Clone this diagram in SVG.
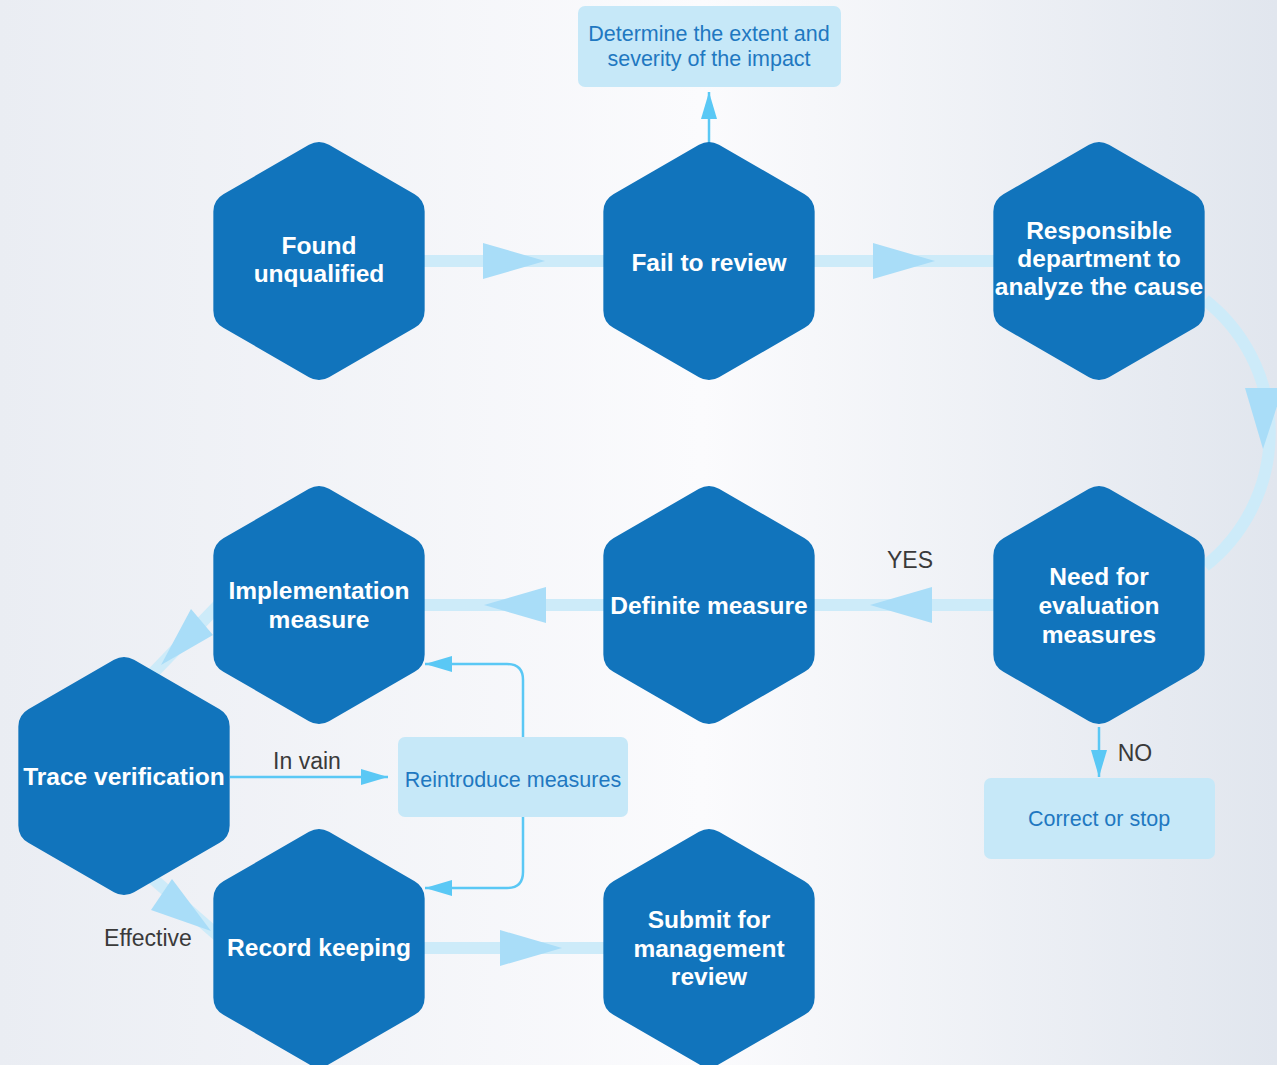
<svg xmlns="http://www.w3.org/2000/svg" xmlns:xlink="http://www.w3.org/1999/xlink" width="1277" height="1065" viewBox="0 0 1277 1065">
<defs>
<linearGradient id="bg" x1="0" y1="0" x2="1" y2="0">
<stop offset="0" stop-color="#eaedf3"/>
<stop offset="0.55" stop-color="#fbfbfd"/>
<stop offset="1" stop-color="#e1e6ee"/>
</linearGradient>
<path id="hex" d="M10,-116.2 L95.66,-66.78 A20,20 0 0 1 105.66,-49.45 L105.66,49.45 A20,20 0 0 1 95.66,66.78 L10,116.2 A20,20 0 0 1 -10,116.2 L-95.66,66.78 A20,20 0 0 1 -105.66,49.45 L-105.66,-49.45 A20,20 0 0 1 -95.66,-66.78 L-10,-116.2 A20,20 0 0 1 10,-116.2 Z"/>
<marker id="arr" viewBox="0 0 27 16" refX="27" refY="8" markerWidth="27" markerHeight="16" markerUnits="userSpaceOnUse" orient="auto">
<path d="M0,0 L27,8 L0,16 Z" fill="#5ac8f5"/>
</marker>
<style>
.hexs{fill:#1174bc}
.nt{font-family:"Liberation Sans",Arial,sans-serif;font-weight:bold;font-size:24.5px;fill:#ffffff;text-anchor:middle}
.thick{stroke:#cdebf9;stroke-width:12;fill:none}
.tri{fill:#a9ddf8}
.thin{stroke:#5ac8f5;stroke-width:2.5;fill:none;marker-end:url(#arr)}
.box{fill:#c6e8f8}
.bt{font-family:"Liberation Sans",Arial,sans-serif;font-size:21.5px;fill:#1f78c1;text-anchor:middle}
.lbl{font-family:"Liberation Sans",Arial,sans-serif;font-size:23px;fill:#3a3a3a;text-anchor:middle}
</style>
</defs>
<rect x="0" y="0" width="1277" height="1065" fill="url(#bg)"/>

<g id="connectors">
<line class="thick" x1="319" y1="261" x2="709" y2="261"/>
<polygon class="tri" points="483,243 545,261 483,279"/>
<line class="thick" x1="709" y1="261" x2="1099" y2="261"/>
<polygon class="tri" points="873,243 935,261 873,279"/>
<path class="thick" d="M1205,300 A169,169 0 0 1 1205,566"/>
<polygon class="tri" points="1245,388 1283,388 1263,449"/>
<line class="thick" x1="1099" y1="605" x2="319" y2="605"/>
<polygon class="tri" points="932,587 870,605 932,623"/>
<polygon class="tri" points="546,587 484,605 546,623"/>
<line class="thick" x1="230" y1="593" x2="130" y2="697"/>
<polygon class="tri" points="191,609 213,635 161,665"/>
<line class="thick" x1="120" y1="850" x2="240" y2="955"/>
<polygon class="tri" points="172,879 151,910 211,931"/>
<line class="thick" x1="319" y1="948" x2="709" y2="948"/>
<polygon class="tri" points="500,930 562,948 500,966"/>
<line class="thin" x1="709" y1="143" x2="709" y2="92"/>
<line class="thin" x1="1099" y1="727" x2="1099" y2="777"/>
<line class="thin" x1="230" y1="777" x2="388" y2="777"/>
<path class="thin" d="M523,737 V680 Q523,664 507,664 H425"/>
<path class="thin" d="M523,817 V872 Q523,888 507,888 H425"/>
<text class="lbl" x="910" y="568">YES</text>
<text class="lbl" x="1135" y="761">NO</text>
<text class="lbl" x="307" y="769">In vain</text>
<text class="lbl" x="148" y="946">Effective</text>
</g>

<g id="n-found"><use xlink:href="#hex" class="hexs" x="319" y="261"/><text class="nt" x="319" y="254">Found</text><text class="nt" x="319" y="282">unqualified</text></g>
<g id="n-fail"><use xlink:href="#hex" class="hexs" x="709" y="261"/><text class="nt" x="709" y="271">Fail to review</text></g>
<g id="n-resp"><use xlink:href="#hex" class="hexs" x="1099" y="261"/><text class="nt" x="1099" y="239">Responsible</text><text class="nt" x="1099" y="267">department to</text><text class="nt" x="1099" y="295">analyze the cause</text></g>
<g id="n-impl"><use xlink:href="#hex" class="hexs" x="319" y="605"/><text class="nt" x="319" y="599">Implementation</text><text class="nt" x="319" y="628">measure</text></g>
<g id="n-def"><use xlink:href="#hex" class="hexs" x="709" y="605"/><text class="nt" x="709" y="614">Definite measure</text></g>
<g id="n-need"><use xlink:href="#hex" class="hexs" x="1099" y="605"/><text class="nt" x="1099" y="585">Need for</text><text class="nt" x="1099" y="614">evaluation</text><text class="nt" x="1099" y="643">measures</text></g>
<g id="n-trace"><use xlink:href="#hex" class="hexs" x="124" y="776"/><text class="nt" x="124" y="785">Trace verification</text></g>
<g id="n-record"><use xlink:href="#hex" class="hexs" x="319" y="948"/><text class="nt" x="319" y="956">Record keeping</text></g>
<g id="n-submit"><use xlink:href="#hex" class="hexs" x="709" y="948"/><text class="nt" x="709" y="928">Submit for</text><text class="nt" x="709" y="957">management</text><text class="nt" x="709" y="985">review</text></g>

<g id="b-determine"><rect class="box" x="578" y="6" width="263" height="81" rx="7"/><text class="bt" x="709" y="41">Determine the extent and</text><text class="bt" x="709" y="66">severity of the impact</text></g>
<g id="b-reintroduce"><rect class="box" x="398" y="737" width="230" height="80" rx="7"/><text class="bt" x="513" y="787">Reintroduce measures</text></g>
<g id="b-correct"><rect class="box" x="984" y="778" width="231" height="81" rx="7"/><text class="bt" x="1099" y="826">Correct or stop</text></g>
</svg>
